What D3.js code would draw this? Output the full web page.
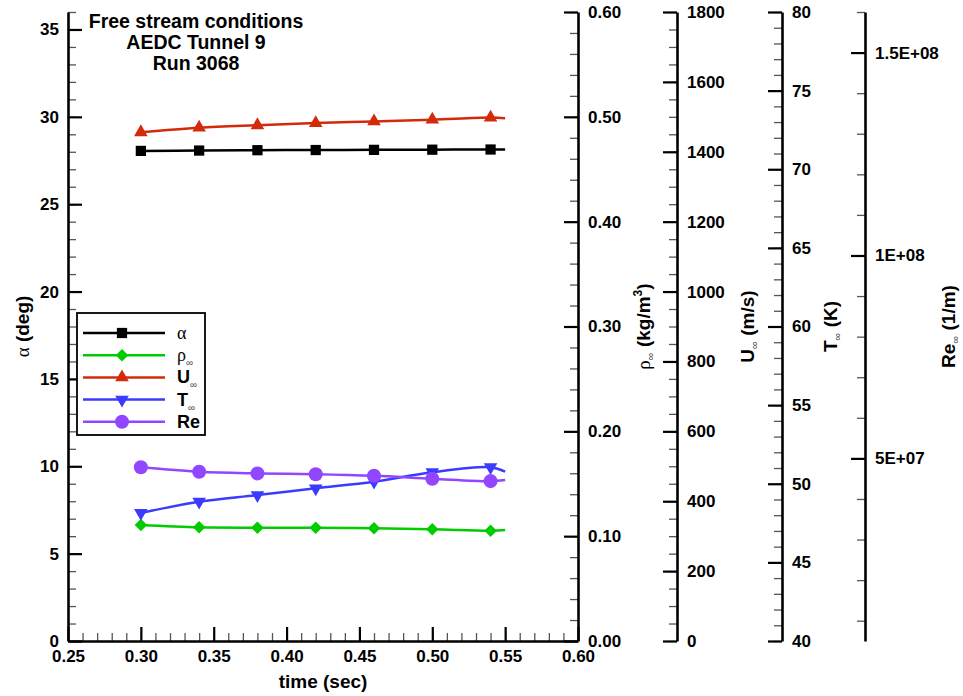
<html>
<script src="https://d3js.org/d3.v7.min.js"></script>
<style>
body{margin:0;background:#fff;}
svg{display:block;}
</style>
<body></body>
<script>
const width = 963;
const height = 696;

// sample times (last point only carries the curve, no marker)
const time = [0.30, 0.34, 0.38, 0.42, 0.46, 0.50, 0.54, 0.55];
const alpha = [28.05, 28.07, 28.09, 28.10, 28.11, 28.12, 28.13, 28.13];
const rho = [0.1107, 0.1085, 0.1081, 0.1081, 0.1075, 0.1066, 0.1052, 0.1058];
const uInf = [1456, 1469, 1476, 1482, 1487, 1492, 1498, 1496];
const tInf = [48.14, 48.86, 49.28, 49.71, 50.13, 50.73, 51.05, 50.77];
const re = [4.78e7, 4.67e7, 4.63e7, 4.61e7, 4.57e7, 4.50e7, 4.44e7, 4.47e7];

const titleLines = ['Free stream conditions', 'AEDC Tunnel 9', 'Run 3068'];
const reTicks = [5e7, 1e8, 1.5e8];
const reTickLabels = ['5E+07', '1E+08', '1.5E+08'];

const pTop = 12, pBottom = 641, pLeft = 68, pRight = 578;
const font = '"Liberation Sans", Arial, Helvetica, sans-serif';

const x = d3.scaleLinear().domain([0.25, 0.60]).range([pLeft, pRight]);
const yA = d3.scaleLinear().domain([0, 36]).range([pBottom, pTop]);
const yR = d3.scaleLinear().domain([0, 0.60]).range([pBottom, pTop]);
const yU = d3.scaleLinear().domain([0, 1800]).range([pBottom, pTop]);
const yT = d3.scaleLinear().domain([40, 80]).range([pBottom, pTop]);
const yRe = d3.scaleLinear().domain([5e6, 1.6e8]).range([pBottom, pTop]);

const svg = d3.select('body').append('svg')
    .attr('width', width)
    .attr('height', height);

function styleAxis(g){
  g.attr('font-size', 17).attr('font-family', font).attr('font-weight', 'bold');
  g.select('.domain').attr('stroke-width', 2.6);
  g.selectAll('.tick line').attr('stroke-width', 2.2);
  g.selectAll('.tick text').attr('fill', '#000');
}
function minor(g){
  g.select('.domain').remove();
  g.selectAll('.tick line').attr('stroke-width', 1.3).attr('stroke', '#555');
  g.selectAll('.tick text').remove();
}

// bottom axis
svg.append('g').attr('transform', `translate(0,${pBottom})`)
  .call(d3.axisBottom(x).tickValues(d3.range(26, 61).map(d=>d/100)).tickSize(-8).tickFormat(''))
  .call(minor);
svg.append('g').attr('transform', `translate(0,${pBottom})`)
  .call(d3.axisBottom(x).tickValues(d3.range(25, 61, 5).map(d=>d/100)).tickSize(-14).tickSizeOuter(0).tickPadding(9).tickFormat(d3.format('.2f')))
  .call(styleAxis);

// left alpha axis
svg.append('g').attr('transform', `translate(${pLeft},0)`)
  .call(d3.axisLeft(yA).tickValues(d3.range(0, 37)).tickSize(-8).tickFormat(''))
  .call(minor);
svg.append('g').attr('transform', `translate(${pLeft},0)`)
  .call(d3.axisLeft(yA).tickValues(d3.range(0, 36, 5)).tickSize(-14).tickSizeOuter(0).tickPadding(9))
  .call(styleAxis);

// right axes: rho, U, T, Re
const rightAxes = [
  {pos: pRight, scale: yR, minorV: d3.range(0, 31).map(d=>d*0.02), majorV: d3.range(0, 7).map(d=>d/10), fmt: d3.format('.2f')},
  {pos: 677, scale: yU, minorV: d3.range(0, 1801, 50), majorV: d3.range(0, 1801, 200), fmt: d3.format('d')},
  {pos: 782, scale: yT, minorV: d3.range(40, 81), majorV: d3.range(40, 81, 5), fmt: d3.format('d')},
  {pos: 865, scale: yRe, minorV: d3.range(1, 17).map(d=>d*1e7), majorV: reTicks, fmt: d=>reTickLabels[reTicks.indexOf(d)]}
];
rightAxes.forEach(a=>{
  svg.append('g').attr('transform', `translate(${a.pos},0)`)
    .call(d3.axisRight(a.scale).tickValues(a.minorV).tickSize(-8).tickFormat(''))
    .call(minor);
  svg.append('g').attr('transform', `translate(${a.pos},0)`)
    .call(d3.axisRight(a.scale).tickValues(a.majorV).tickSize(-14).tickSizeOuter(0).tickPadding(10).tickFormat(a.fmt))
    .call(styleAxis);
});

// axis titles
function vTitle(cx, parts){
  const t = svg.append('text')
      .attr('transform', `translate(${cx + 7},${(pTop + pBottom) / 2}) rotate(-90)`)
      .attr('text-anchor', 'middle')
      .attr('font-family', font)
      .attr('font-size', 19)
      .attr('font-weight', 'bold');
  parts.forEach(p=>{
    const s = t.append('tspan').text(p.t);
    if (p.serif) s.attr('font-family', '"Liberation Serif", "DejaVu Serif", serif').attr('font-weight', 'normal');
    if (p.sub) s.attr('font-size', 11).attr('font-weight', 'normal').attr('fill', '#444').attr('dy', 4);
    if (p.up) s.attr('dy', p.up);
    if (p.sup) s.attr('font-size', 12).attr('dy', -8);
  });
}
vTitle(22, [{t: 'α', serif: true}, {t: ' (deg)'}]);
vTitle(643, [{t: 'ρ', serif: true}, {t: '∞', sub: true}, {t: ' (kg/m', up: -4}, {t: '3', sup: true}, {t: ')', up: 8}]);
vTitle(747, [{t: 'U'}, {t: '∞', sub: true}, {t: ' (m/s)', up: -4}]);
vTitle(830, [{t: 'T'}, {t: '∞', sub: true}, {t: ' (K)', up: -4}]);
vTitle(948, [{t: 'Re'}, {t: '∞', sub: true}, {t: ' (1/m)', up: -4}]);

svg.append('text')
    .attr('x', (pLeft + pRight) / 2)
    .attr('y', 688)
    .attr('text-anchor', 'middle')
    .attr('font-family', font)
    .attr('font-size', 19)
    .attr('font-weight', 'bold')
    .text('time (sec)');

// chart title
svg.append('g').selectAll('text')
  .data(titleLines)
    .enter()
  .append('text')
    .attr('x', 196)
    .attr('y', (d, i)=>28 + i * 21)
    .attr('text-anchor', 'middle')
    .attr('font-family', font)
    .attr('font-size', 19.5)
    .attr('font-weight', 'bold')
    .text(d=>d);

// series
const series = [
  {name: 'alpha', values: alpha, scale: yA, color: '#000000', symbol: d3.symbolSquare, size: 105, rot: 0},
  {name: 'rho', values: rho, scale: yR, color: '#00cc00', symbol: d3.symbolSquare, size: 78, rot: 45},
  {name: 'U', values: uInf, scale: yU, color: '#d42a0c', symbol: d3.symbolTriangle, size: 80, rot: 0},
  {name: 'T', values: tInf, scale: yT, color: '#3b3bff', symbol: d3.symbolTriangle, size: 80, rot: 180},
  {name: 'Re', values: re, scale: yRe, color: '#9146ff', symbol: d3.symbolCircle, size: 155, rot: 0}
];

series.forEach(s=>{
  const pts = time.map((t, i)=>[t, s.values[i]]);
  const line = d3.line()
      .x(d=>x(d[0]))
      .y(d=>s.scale(d[1]))
      .curve(d3.curveCatmullRom);
  svg.append('path')
      .datum(pts)
      .attr('d', line)
      .attr('fill', 'none')
      .attr('stroke', s.color)
      .attr('stroke-width', 2.5);
  svg.append('g').selectAll('path')
    .data(pts.slice(0, 7))
      .enter()
    .append('path')
      .attr('d', d3.symbol().type(s.symbol).size(s.size))
      .attr('transform', d=>`translate(${x(d[0])},${s.scale(d[1])}) rotate(${s.rot})`)
      .attr('fill', s.color);
});

// legend
const legend = svg.append('g');
legend.append('rect')
    .attr('x', 77).attr('y', 313)
    .attr('width', 128).attr('height', 122)
    .attr('fill', '#fff')
    .attr('stroke', '#000')
    .attr('stroke-width', 1.8);
const legendLabels = [
  [{t: 'α', serif: true}],
  [{t: 'ρ', serif: true}, {t: '∞', sub: true}],
  [{t: 'U'}, {t: '∞', sub: true}],
  [{t: 'T'}, {t: '∞', sub: true}],
  [{t: 'Re'}]
];
series.forEach((s, i)=>{
  const ly = 333 + i * 22.2;
  legend.append('line')
      .attr('x1', 83).attr('x2', 165)
      .attr('y1', ly).attr('y2', ly)
      .attr('stroke', s.color)
      .attr('stroke-width', 2.5);
  legend.append('path')
      .attr('d', d3.symbol().type(s.symbol).size(s.size))
      .attr('transform', `translate(122,${ly}) rotate(${s.rot})`)
      .attr('fill', s.color);
  const t = legend.append('text')
      .attr('x', 177).attr('y', ly + 6)
      .attr('font-family', font)
      .attr('font-size', 18)
      .attr('font-weight', 'bold');
  legendLabels[i].forEach(p=>{
    const sp = t.append('tspan').text(p.t);
    if (p.serif) sp.attr('font-family', '"Liberation Serif", "DejaVu Serif", serif').attr('font-weight', 'normal');
    if (p.sub) sp.attr('font-size', 10).attr('font-weight', 'normal').attr('fill', '#555').attr('dy', 5);
  });
});
</script>
</html>
